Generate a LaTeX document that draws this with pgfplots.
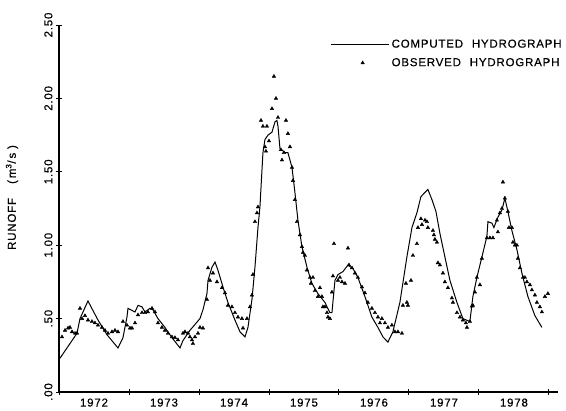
\documentclass[border=0pt]{standalone}
\usepackage{fontspec}
\setmainfont[LetterSpace=7,WordSpace=2.2,FakeBold=0.4]{Liberation Sans}
\usepackage{pgfplots}
\pgfplotsset{compat=1.18}
\pgfplotsset{
  linelegend/.style={legend image code/.code={\draw[##1] (0pt,0pt) -- (58pt,0pt);}},
  marklegend/.style={legend image code/.code={\draw[##1] plot coordinates {(32pt,0pt)};}},
}

% x = years since the start of 1972, y = runoff in m^3/s
\begin{document}
\begin{tikzpicture}[font=\fontsize{11.5}{13}\selectfont]
\useasboundingbox (-59pt,-19pt) rectangle (507pt,392pt);
\begin{axis}[
  scale only axis, width=499pt, height=367pt,
  xmin=0, xmax=7.13, ymin=0, ymax=2.5,
  axis x line=bottom, axis y line=left,
  axis line style={-, line width=1.2pt},
  xtick={0.5,1.5,...,6.5},
  xticklabels={1972,1973,1974,1975,1976,1977,1978},
  major x tick style={draw=none},
  minor xtick={0,1,...,7},
  ytick={0,0.5,...,2.5},
  yticklabels={.00,.50,1.00,1.50,2.00,2.50},
  tick align=center,
  tick style={black, line width=0.9pt},
  major tick length=6pt, minor tick length=6pt,
  yticklabel style={rotate=90, anchor=south},
  every axis y label/.style={at={(rel axis cs:0,0.53)}, xshift=-47pt, rotate=90, anchor=center},
  ylabel={RUNOFF\hspace{14pt}(\,m\textsuperscript{3}/\,s\,\,)},
  legend cell align=left,
  legend style={draw=none, fill=none, at={(rel axis cs:0.543,0.922)}, anchor=west,
    inner sep=0pt, row sep=4pt, column sep=0pt, nodes={inner sep=2.5pt}},
]
\addplot[black, line width=1pt, linelegend]
coordinates {
(0.014,0.23) (0.257,0.40) (0.300,0.50) (0.414,0.62) (0.557,0.49) (0.686,0.39)
(0.843,0.30) (0.914,0.37) (0.971,0.51) (0.986,0.57) (1.086,0.545) (1.129,0.59)
(1.186,0.58) (1.229,0.545) (1.300,0.57) (1.343,0.56) (1.414,0.50) (1.514,0.44)
(1.614,0.37) (1.729,0.30) (1.771,0.35) (1.871,0.42) (1.943,0.46) (2.014,0.50)
(2.057,0.56) (2.114,0.67) (2.129,0.76) (2.186,0.85) (2.229,0.885) (2.271,0.83)
(2.343,0.715) (2.414,0.61) (2.514,0.49) (2.586,0.41) (2.657,0.375) (2.700,0.44)
(2.757,0.63) (2.800,0.85) (2.843,1.12) (2.871,1.26) (2.914,1.63) (2.943,1.72)
(2.986,1.75) (3.043,1.77) (3.086,1.84) (3.114,1.85) (3.129,1.81) (3.157,1.66)
(3.229,1.63) (3.271,1.63) (3.329,1.53) (3.371,1.36) (3.414,1.17) (3.471,0.99)
(3.543,0.85) (3.614,0.74) (3.700,0.67) (3.800,0.61) (3.871,0.54) (3.900,0.54)
(3.943,0.76) (3.986,0.80) (4.057,0.82) (4.129,0.865) (4.200,0.84) (4.271,0.78)
(4.371,0.65) (4.471,0.51) (4.557,0.44) (4.629,0.375) (4.700,0.34) (4.771,0.41)
(4.871,0.61) (4.971,0.92) (5.043,1.12) (5.114,1.22) (5.171,1.33) (5.229,1.36)
(5.271,1.38) (5.329,1.31) (5.386,1.23) (5.443,1.08) (5.514,0.92) (5.586,0.76)
(5.686,0.61) (5.771,0.50) (5.871,0.48) (5.914,0.65) (5.971,0.78) (6.043,0.92)
(6.114,1.06) (6.129,1.16) (6.186,1.15) (6.214,1.12) (6.271,1.19) (6.329,1.24)
(6.371,1.32) (6.414,1.23) (6.471,1.10) (6.543,0.97) (6.614,0.81) (6.700,0.65)
(6.800,0.52) (6.900,0.44)
};
\addlegendentry{COMPUTED HYDROGRAPH}
\addplot[black, only marks, mark=triangle*, mark size=2pt, marklegend]
coordinates {
(0.043,0.375) (0.086,0.42) (0.129,0.435) (0.157,0.44) (0.186,0.41) (0.229,0.40)
(0.257,0.40) (0.300,0.57) (0.329,0.50) (0.371,0.52) (0.414,0.49) (0.471,0.48)
(0.514,0.47) (0.557,0.455) (0.614,0.44) (0.657,0.42) (0.700,0.40) (0.757,0.41)
(0.800,0.42) (0.843,0.41) (0.914,0.48) (0.971,0.455) (1.014,0.435) (1.043,0.435)
(1.086,0.47) (1.129,0.525) (1.186,0.54) (1.229,0.54) (1.271,0.545) (1.329,0.57)
(1.371,0.545) (1.414,0.47) (1.471,0.44) (1.514,0.42) (1.557,0.40) (1.614,0.375)
(1.657,0.37) (1.700,0.355) (1.771,0.40) (1.800,0.41) (1.843,0.40) (1.871,0.375)
(1.900,0.355) (1.914,0.33) (1.943,0.375) (1.986,0.40) (2.014,0.44) (2.057,0.435)
(2.114,0.63) (2.129,0.845) (2.157,0.76) (2.200,0.81) (2.257,0.75) (2.329,0.71)
(2.371,0.675) (2.414,0.59) (2.471,0.58) (2.514,0.54) (2.557,0.51) (2.614,0.50)
(2.629,0.435) (2.686,0.50) (2.729,0.58) (2.757,0.66) (2.771,0.80) (2.800,1.16)
(2.829,1.22) (2.843,1.26) (2.886,1.85) (2.914,1.81) (2.943,1.67) (2.957,1.64)
(2.971,1.81) (3.000,1.71) (3.043,1.93) (3.071,2.15) (3.100,2.00) (3.129,1.87)
(3.171,1.65) (3.186,1.58) (3.214,1.63) (3.243,1.85) (3.271,1.76) (3.300,1.67)
(3.329,1.53) (3.343,1.44) (3.371,1.31) (3.400,1.16) (3.443,1.07) (3.471,0.99)
(3.486,0.95) (3.514,0.93) (3.543,0.83) (3.586,0.78) (3.600,0.74) (3.629,0.78)
(3.657,0.69) (3.700,0.65) (3.729,0.71) (3.757,0.65) (3.771,0.58) (3.800,0.58)
(3.829,0.54) (3.843,0.51) (3.871,0.50) (3.900,0.68) (3.914,0.79) (3.929,1.01)
(3.986,0.76) (4.014,0.78) (4.043,0.75) (4.086,0.74) (4.129,0.98) (4.143,0.865)
(4.186,0.845) (4.229,0.81) (4.271,0.78) (4.329,0.715) (4.371,0.675) (4.414,0.61)
(4.471,0.57) (4.514,0.54) (4.557,0.51) (4.586,0.47) (4.614,0.50) (4.657,0.47)
(4.700,0.44) (4.757,0.455) (4.800,0.41) (4.843,0.41) (4.900,0.40) (4.914,0.59)
(4.957,0.74) (4.971,0.61) (4.986,0.59) (5.029,0.76) (5.057,0.93) (5.114,1.01)
(5.129,1.12) (5.171,1.18) (5.186,1.14) (5.229,1.17) (5.257,1.16) (5.271,1.12)
(5.343,1.10) (5.357,1.07) (5.371,1.04) (5.400,1.02) (5.414,0.88) (5.443,0.865)
(5.486,0.81) (5.514,0.75) (5.557,0.71) (5.614,0.64) (5.629,0.61) (5.686,0.54)
(5.729,0.51) (5.771,0.49) (5.814,0.47) (5.829,0.44) (5.871,0.48) (5.900,0.585)
(5.914,0.59) (5.943,0.68) (5.971,0.78) (6.014,0.73) (6.043,0.91) (6.114,1.05)
(6.157,1.05) (6.200,1.05) (6.257,1.17) (6.271,1.09) (6.300,1.22) (6.329,1.25)
(6.343,1.43) (6.371,1.32) (6.414,1.23) (6.429,1.12) (6.471,1.12) (6.486,1.02)
(6.514,1.00) (6.543,1.00) (6.557,0.91) (6.586,0.845) (6.629,0.78) (6.657,0.78)
(6.686,0.75) (6.729,0.73) (6.757,0.695) (6.800,0.66) (6.829,0.61) (6.871,0.58)
(6.900,0.545) (6.943,0.65) (6.986,0.67)
};
\addlegendentry{OBSERVED HYDROGRAPH}
\end{axis}
\end{tikzpicture}
\end{document}
